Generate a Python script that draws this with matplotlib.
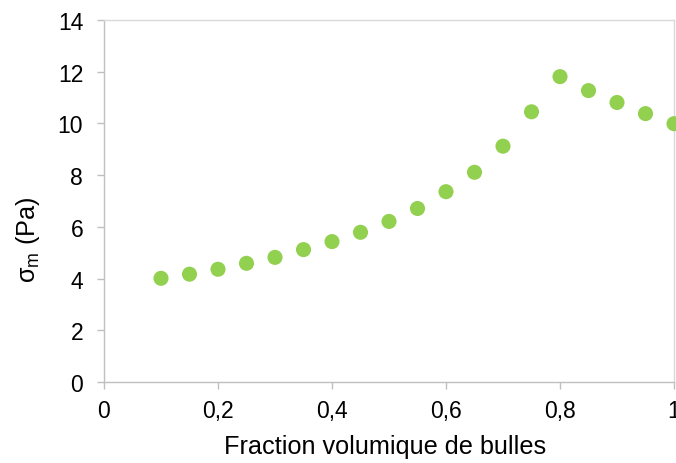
import matplotlib
matplotlib.use("Agg")
import matplotlib.pyplot as plt

plt.rcParams['font.family'] = ['Liberation Sans', 'DejaVu Sans']

fraction = [0.10, 0.15, 0.20, 0.25, 0.30, 0.35, 0.40, 0.45, 0.50, 0.55,
            0.60, 0.65, 0.70, 0.75, 0.80, 0.85, 0.90, 0.95, 1.00]
sigma_m = [4.01, 4.17, 4.36, 4.59, 4.82, 5.12, 5.43, 5.79, 6.21, 6.71,
           7.36, 8.11, 9.12, 10.45, 11.81, 11.27, 10.81, 10.38, 9.99]
xticks = [0, 0.2, 0.4, 0.6, 0.8, 1.0]
xticklabels = ['0', '0,2', '0,4', '0,6', '0,8', '1']
yticks = [0, 2, 4, 6, 8, 10, 12, 14]

fig = plt.figure(figsize=(6.76, 4.64), dpi=100)
ax = fig.add_axes([104/676, 1 - 383/464, (674 - 104)/676, (383 - 21)/464])

ax.scatter(fraction, sigma_m, s=118, color='#92D050', edgecolors='none', zorder=3, clip_on=False)

ax.set_xlim(0, 1)
ax.set_ylim(0, 14)
ax.set_xticks(xticks)
ax.set_xticklabels(xticklabels)
ax.set_yticks(yticks)

grey = '#BFBFBF'
for side in ['left', 'bottom']:
    ax.spines[side].set_color(grey)
    ax.spines[side].set_linewidth(1.0)
for side in ['top', 'right']:
    ax.spines[side].set_color('#D9D9D9')
    ax.spines[side].set_linewidth(1.0)
ax.tick_params(axis='both', colors=grey, labelcolor='black', labelsize=16.5,
               length=5, width=1.0, direction='out')
ax.tick_params(axis='x', pad=7)
ax.tick_params(axis='y', pad=10)

ax.set_xlabel('Fraction volumique de bulles', fontsize=18.2, va='center')
ax.xaxis.set_label_coords(0.5 - 4/570, (383 - 447)/362)
ax.set_ylabel(r'σ$_{\mathregular{m}}$ (Pa)', fontsize=18.2, va='center')
ax.yaxis.set_label_coords((28 - 104)/570, (383 - 240)/362)

fig.savefig('out.png', dpi=100)
